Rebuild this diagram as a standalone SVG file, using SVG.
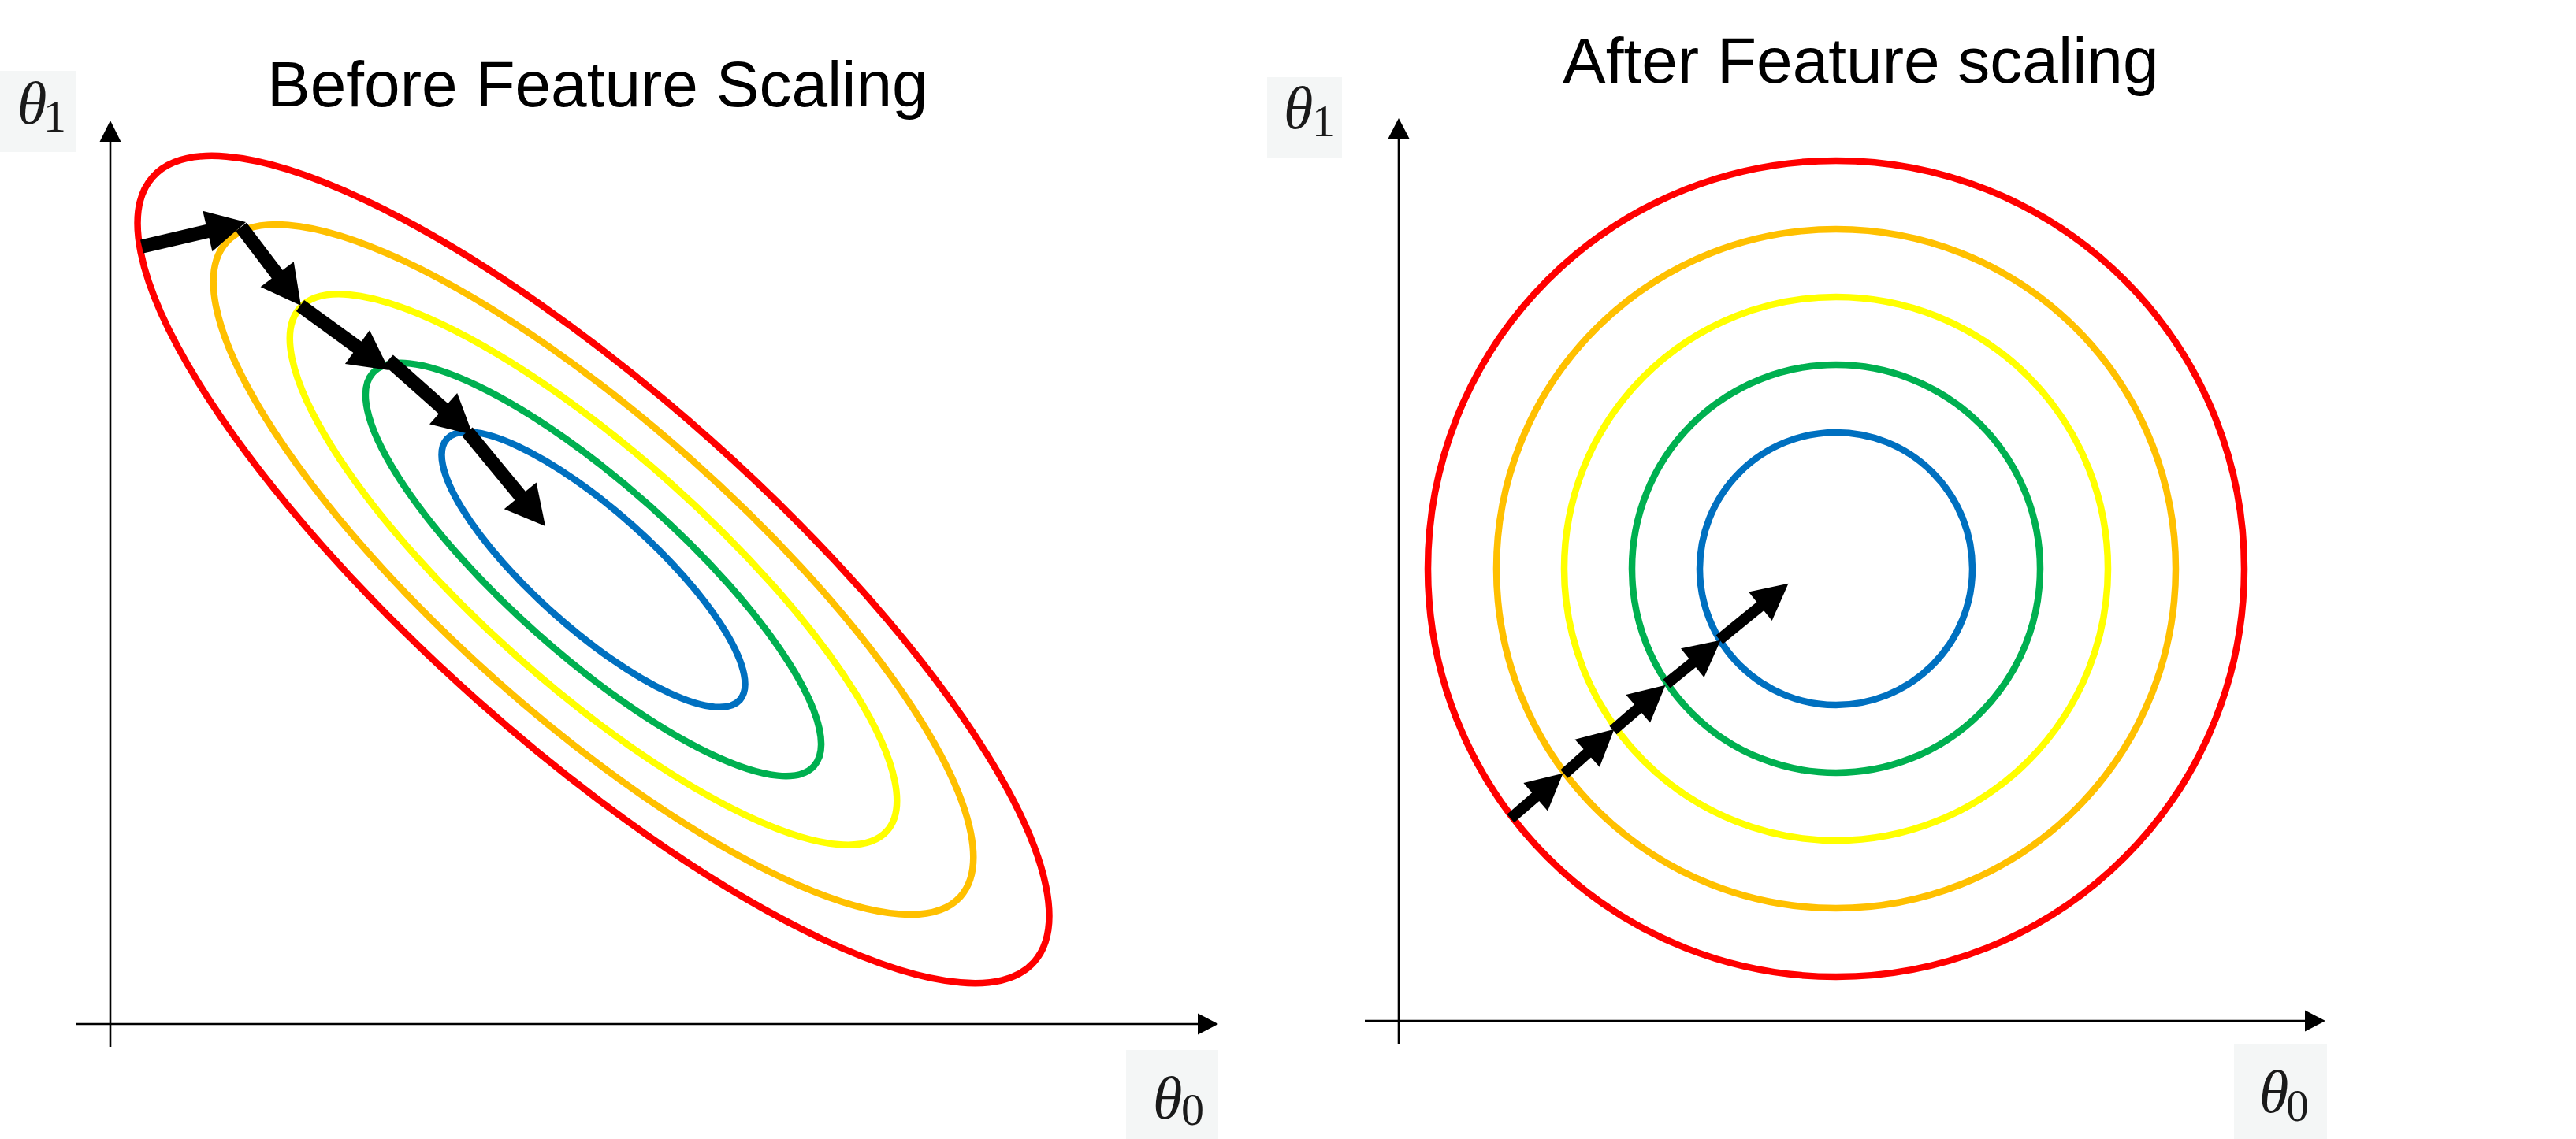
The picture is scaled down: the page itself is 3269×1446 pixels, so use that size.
<svg xmlns="http://www.w3.org/2000/svg" width="3269" height="1446" viewBox="0 0 3269 1446">
  <style>
    .title { font-family: "Liberation Sans", Arial, sans-serif; font-size: 82px; fill: #000; }
    .axis { stroke: #000; stroke-width: 2.6; fill: none; }
    .ahead { fill: #000; }
    .lblbox { fill: #f4f6f6; }
    .th { font-family: "Liberation Serif", "Times New Roman", serif; font-style: italic; font-size: 76px; fill: #1a1a1a; }
    .sub { font-family: "Liberation Serif", "Times New Roman", serif; font-size: 58px; fill: #1a1a1a; }
    .c { fill: none; stroke-width: 8.5; }
    .red { stroke: #FF0000; }
    .orange { stroke: #FFC000; }
    .yellow { stroke: #FFFF00; }
    .green { stroke: #00B050; }
    .blue { stroke: #0070C0; }
    .big { stroke: #000; stroke-width: 17.5; fill: none; marker-end: url(#headBig); }
    .small { stroke: #000; stroke-width: 14; fill: none; marker-end: url(#headSmall); }
  </style>
  <defs>
    <marker id="headBig" markerUnits="userSpaceOnUse" viewBox="0 -27 52 54" refX="2" refY="0" markerWidth="52" markerHeight="54" orient="auto" overflow="visible">
      <path d="M0,-26.5 L50,0 L0,26.5 Z" fill="#000"/>
    </marker>
    <marker id="headSmall" markerUnits="userSpaceOnUse" viewBox="0 -24 48 48" refX="2" refY="0" markerWidth="48" markerHeight="48" orient="auto" overflow="visible">
      <path d="M0,-23.5 L46,0 L0,23.5 Z" fill="#000"/>
    </marker>
  </defs>
  <rect width="3269" height="1446" fill="#fff"/>

  <!-- LEFT PANEL -->
  <g id="title-before">
    <text class="title" x="339" y="135">Before Feature Scaling</text>
  </g>
  <g id="left-axes">
    <line class="axis" x1="140" y1="1329" x2="140" y2="178"/>
    <polygon class="ahead" points="140,153 126.5,180 153.5,180"/>
    <line class="axis" x1="97" y1="1300" x2="1522" y2="1300"/>
    <polygon class="ahead" points="1546,1300 1520,1286.5 1520,1313.5"/>
  </g>
  <g id="left-theta1">
    <rect class="lblbox" x="0" y="90" width="96" height="103"/>
    <text class="th" x="22" y="157">θ</text>
    <text class="sub" x="55" y="167">1</text>
  </g>
  <g id="left-theta0">
    <rect class="lblbox" x="1429" y="1333" width="117" height="113"/>
    <text class="th" x="1463" y="1420">θ</text>
    <text class="sub" x="1499" y="1428">0</text>
  </g>
  <g id="left-contours" transform="translate(753,723) rotate(41.7)">
    <ellipse class="c red" rx="749" ry="222"/>
    <ellipse class="c orange" rx="624" ry="187"/>
    <ellipse class="c yellow" rx="499" ry="147"/>
    <ellipse class="c green" rx="375" ry="108"/>
    <ellipse class="c blue" rx="249" ry="75"/>
  </g>
  <g id="left-connectors">
    <line class="big" x1="180" y1="313" x2="265.3" y2="293.0"/>
    <line class="big" x1="306" y1="288" x2="352.9" y2="349.8"/>
    <line class="big" x1="381" y1="388" x2="455.1" y2="441.8"/>
    <line class="big" x1="493" y1="457" x2="564.1" y2="520.1"/>
    <line class="big" x1="593" y1="548" x2="661.5" y2="631.0"/>
  </g>

  <!-- RIGHT PANEL -->
  <g id="title-after">
    <text class="title" x="1983" y="105">After Feature scaling</text>
  </g>
  <g id="right-axes">
    <line class="axis" x1="1775" y1="1326" x2="1775" y2="174"/>
    <polygon class="ahead" points="1775,150 1761.5,176 1788.5,176"/>
    <line class="axis" x1="1732" y1="1296" x2="2927" y2="1296"/>
    <polygon class="ahead" points="2951,1296 2925,1282.5 2925,1309.5"/>
  </g>
  <g id="right-theta1">
    <rect class="lblbox" x="1608" y="98" width="95" height="102"/>
    <text class="th" x="1629" y="163">θ</text>
    <text class="sub" x="1665" y="173">1</text>
  </g>
  <g id="right-theta0">
    <rect class="lblbox" x="2835" y="1326" width="118" height="120"/>
    <text class="th" x="2867" y="1412">θ</text>
    <text class="sub" x="2901" y="1423">0</text>
  </g>
  <g id="right-contours">
    <circle class="c red" cx="2330" cy="722" r="518"/>
    <circle class="c orange" cx="2330" cy="722" r="431"/>
    <circle class="c yellow" cx="2330" cy="722" r="345"/>
    <circle class="c green" cx="2330" cy="722" r="259"/>
    <circle class="c blue" cx="2330" cy="722" r="173"/>
  </g>
  <g id="right-connectors">
    <line class="small" x1="1917" y1="1039" x2="1950.2" y2="1010.4"/>
    <line class="small" x1="1985" y1="982.5" x2="2015.7" y2="955.0"/>
    <line class="small" x1="2047" y1="927" x2="2080.2" y2="898.4"/>
    <line class="small" x1="2115" y1="868" x2="2149.3" y2="840.4"/>
    <line class="small" x1="2182" y1="812" x2="2235.4" y2="768.5"/>
  </g>
</svg>
